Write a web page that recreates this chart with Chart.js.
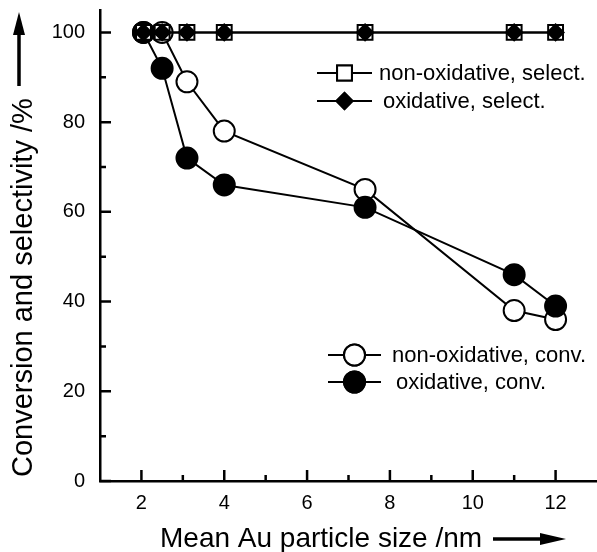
<!DOCTYPE html>
<html>
<head>
<meta charset="utf-8">
<script src="https://cdn.jsdelivr.net/npm/chart.js@4.4.1/dist/chart.umd.min.js"></script>
<style>
	html, body { margin: 0; padding: 0; background: #fff; }
	#wrap { width: 597px; height: 552px; }
</style>
</head>
<body>
<div id="wrap"><canvas id="sizeChart" width="597" height="552"></canvas></div>
<script>
// mean Au particle size (nm)
const particleSizes = [2.05, 2.5, 3.1, 4.0, 7.4, 11.0, 12.0];
// selectivity, %
const selectNonOx = [100, 100, 100, 100, 100, 100, 100];
const selectOx = [100, 100, 100, 100, 100, 100, 100];
// conversion, %
const convNonOx = [100, 100, 89, 78, 65, 38, 36];
const convOx = [100, 92, 72, 66, 61, 46, 39];

const xTickLabels = [2, 4, 6, 8, 10, 12];
const xMinorTicks = [3, 5, 7, 9, 11];
const yTickLabels = [0, 20, 40, 60, 80, 100];
const yMinorTicks = [10, 30, 50, 70, 90];

const seriesNames = ['non-oxidative, select.', 'oxidative, select.', 'non-oxidative, conv.', 'oxidative, conv.'];

const FONT = '"Liberation Sans", Arial, Helvetica, sans-serif';
const toPts = (ys) => particleSizes.map((x, i) => ({x, y: ys[i]}));

const drawText = (ctx, txt, x, y, size) => {
	ctx.font = `${size}px ${FONT}`;
	ctx.fillText(txt, x, y);
};

const drawMarker = (ctx, style, x, y, r, fill) => {
	ctx.save();
	ctx.lineWidth = 2;
	ctx.strokeStyle = '#000';
	ctx.fillStyle = fill;
	Chart.helpers.drawPoint(ctx, {pointStyle: style, radius: r, borderWidth: 2, rotation: 0}, x, y);
	ctx.fill();
	ctx.stroke();
	ctx.restore();
};

const decorPlugin = {
	id: 'decor',
	afterDraw(chart) {
		const ctx = chart.ctx;
		const xs = chart.scales.x;
		const ys = chart.scales.y;
		const area = chart.chartArea;
		ctx.save();
		ctx.strokeStyle = '#000';
		ctx.fillStyle = '#000';
		ctx.lineWidth = 2.5;
		// inward ticks
		ctx.beginPath();
		xTickLabels.forEach(v => { const p = xs.getPixelForValue(v); ctx.moveTo(p, area.bottom); ctx.lineTo(p, area.bottom - 11); });
		xMinorTicks.forEach(v => { const p = xs.getPixelForValue(v); ctx.moveTo(p, area.bottom); ctx.lineTo(p, area.bottom - 6); });
		yTickLabels.forEach(v => { const p = ys.getPixelForValue(v); ctx.moveTo(area.left, p); ctx.lineTo(area.left + 11, p); });
		yMinorTicks.forEach(v => { const p = ys.getPixelForValue(v); ctx.moveTo(area.left, p); ctx.lineTo(area.left + 6, p); });
		ctx.stroke();

		// axis titles + arrows
		ctx.textBaseline = 'alphabetic';
		ctx.textAlign = 'left';
		drawText(ctx, 'Mean Au particle size /nm', 160, 547, 28);
		ctx.lineWidth = 3.5;
		ctx.beginPath(); ctx.moveTo(493, 539); ctx.lineTo(546, 539); ctx.stroke();
		ctx.beginPath(); ctx.moveTo(566, 539); ctx.lineTo(540, 533); ctx.lineTo(540, 545); ctx.closePath(); ctx.fill();

		ctx.save();
		ctx.translate(32, 477);
		ctx.rotate(-Math.PI / 2);
		drawText(ctx, 'Conversion and selectivity /%', 0, 0, 29);
		ctx.restore();
		ctx.beginPath(); ctx.moveTo(19, 86); ctx.lineTo(19, 30); ctx.stroke();
		ctx.beginPath(); ctx.moveTo(19, 12); ctx.lineTo(13, 35); ctx.lineTo(25, 35); ctx.closePath(); ctx.fill();

		// legends
		ctx.lineWidth = 2;
		ctx.textBaseline = 'middle';
		const rows = [
			{y: 73, style: 'rect', r: 10.5, fill: '#fff', lx: 317, rx: 372, tx: 379},
			{y: 101, style: 'rectRot', r: 8, fill: '#000', lx: 317, rx: 372, tx: 383},
			{y: 355, style: 'circle', r: 10.5, fill: '#fff', lx: 328, rx: 381, tx: 392},
			{y: 382, style: 'circle', r: 10.5, fill: '#000', lx: 328, rx: 381, tx: 396}
		];
		rows.forEach((row, i) => {
			const cx = (row.lx + row.rx) / 2;
			ctx.beginPath(); ctx.moveTo(row.lx, row.y); ctx.lineTo(row.rx, row.y); ctx.stroke();
			drawMarker(ctx, row.style, cx, row.y, row.r, row.fill);
			drawText(ctx, seriesNames[i], row.tx, row.y + 1, 22);
		});
		ctx.restore();
	}
};

const ds = (label, ys, style, r, fill, order) => ({
	label,
	data: toPts(ys),
	showLine: true,
	borderColor: '#000',
	borderWidth: 2,
	pointStyle: style,
	pointRadius: r,
	pointBackgroundColor: fill,
	pointBorderColor: '#000',
	pointBorderWidth: 2,
	order
});

new Chart(document.getElementById('sizeChart'), {
	type: 'scatter',
	data: {
		datasets: [
			ds(seriesNames[1], selectOx, 'rectRot', 8, '#000', 0),
			ds(seriesNames[0], selectNonOx, 'rect', 10.5, '#fff', 1),
			ds(seriesNames[3], convOx, 'circle', 10.5, '#000', 2),
			ds(seriesNames[2], convNonOx, 'circle', 10.5, '#fff', 3)
		]
	},
	options: {
		responsive: false,
		animation: false,
		layout: {autoPadding: false, padding: {top: 10, left: 0, right: 0, bottom: 0}},
		plugins: {legend: {display: false}, tooltip: {enabled: false}},
		scales: {
			x: {
				type: 'linear', min: 1, max: 13,
				afterBuildTicks: (s) => { s.ticks = xTickLabels.map(v => ({value: v})); },
				afterFit: (s) => { s.height = 71; s.paddingLeft = 0; s.paddingRight = 0; },
				grid: {display: false, drawTicks: false},
				border: {display: true, color: '#000', width: 2.5},
				ticks: {color: '#000', padding: 10, font: {family: FONT, size: 20}}
			},
			y: {
				min: 0, max: 105,
				afterBuildTicks: (s) => { s.ticks = yTickLabels.map(v => ({value: v})); },
				afterFit: (s) => { s.width = 100; s.paddingTop = 0; s.paddingBottom = 0; },
				grid: {display: false, drawTicks: false},
				border: {display: true, color: '#000', width: 2.5},
				ticks: {color: '#000', padding: 15, font: {family: FONT, size: 20}}
			}
		}
	},
	plugins: [decorPlugin]
});
</script>
</body>
</html>
